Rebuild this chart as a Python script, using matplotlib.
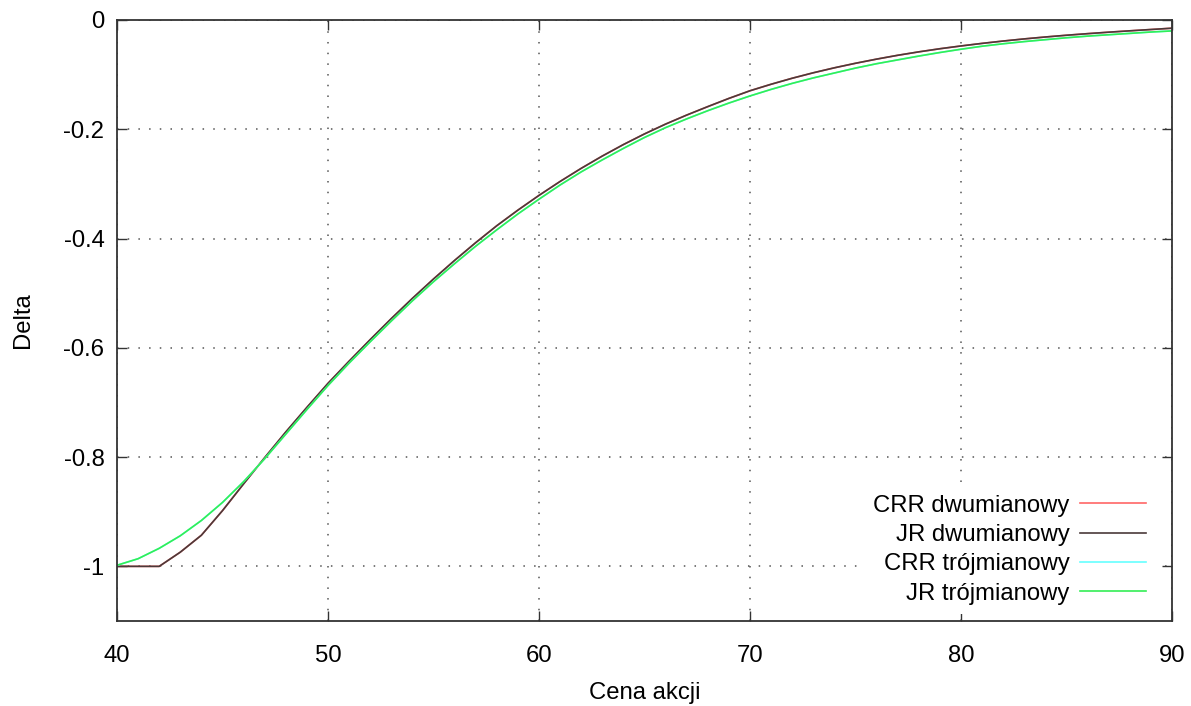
import matplotlib
matplotlib.use("Agg")
import matplotlib.pyplot as plt

plt.rcParams['font.family'] = ['Liberation Sans', 'DejaVu Sans']

# Stock price (x axis)
cena = list(range(40, 91))

# Delta values
crr_dwu = [-1.0, -1.0, -1.0, -0.974, -0.943, -0.898, -0.849, -0.801, -0.754, -0.709,
           -0.665, -0.6245, -0.585, -0.5465, -0.5095, -0.474, -0.44, -0.4075, -0.3765, -0.348,
           -0.321, -0.2955, -0.2715, -0.249, -0.228, -0.2085, -0.1905, -0.174, -0.1585, -0.1435,
           -0.1295, -0.1176, -0.1066, -0.0966, -0.0875, -0.0792, -0.0716, -0.0646, -0.0583, -0.0526,
           -0.0475, -0.0428, -0.0385, -0.0346, -0.0311, -0.0279, -0.025, -0.0223, -0.0198, -0.0174,
           -0.015]
jr_dwu = [-1.0, -1.0, -1.0, -0.974, -0.943, -0.898, -0.849, -0.801, -0.754, -0.709,
          -0.665, -0.6245, -0.585, -0.5465, -0.5095, -0.474, -0.44, -0.4075, -0.3765, -0.348,
          -0.321, -0.2955, -0.2715, -0.249, -0.228, -0.2085, -0.1905, -0.174, -0.1585, -0.1435,
          -0.1295, -0.1176, -0.1066, -0.0966, -0.0875, -0.0792, -0.0716, -0.0646, -0.0583, -0.0526,
          -0.0475, -0.0428, -0.0385, -0.0346, -0.0311, -0.0279, -0.025, -0.0223, -0.0198, -0.0174,
          -0.015]
crr_troj = [-0.998, -0.986, -0.967, -0.944, -0.916, -0.883, -0.845, -0.803, -0.758, -0.713,
            -0.669, -0.628, -0.589, -0.551, -0.514, -0.479, -0.446, -0.414, -0.384, -0.355,
            -0.328, -0.302, -0.278, -0.256, -0.235, -0.215, -0.197, -0.181, -0.166, -0.152,
            -0.139, -0.127, -0.116, -0.106, -0.097, -0.088, -0.080, -0.073, -0.066, -0.0595,
            -0.0535, -0.048, -0.0435, -0.0395, -0.036, -0.0325, -0.0295, -0.027, -0.0245, -0.022,
            -0.020]
jr_troj = [-0.998, -0.986, -0.967, -0.944, -0.916, -0.883, -0.845, -0.803, -0.758, -0.713,
           -0.669, -0.628, -0.589, -0.551, -0.514, -0.479, -0.446, -0.414, -0.384, -0.355,
           -0.328, -0.302, -0.278, -0.256, -0.235, -0.215, -0.197, -0.181, -0.166, -0.152,
           -0.139, -0.127, -0.116, -0.106, -0.097, -0.088, -0.080, -0.073, -0.066, -0.0595,
           -0.0535, -0.048, -0.0435, -0.0395, -0.036, -0.0325, -0.0295, -0.027, -0.0245, -0.022,
           -0.020]

labels = ["CRR dwumianowy", "JR dwumianowy", "CRR trójmianowy", "JR trójmianowy"]
x_ticks = [40, 50, 60, 70, 80, 90]
y_ticks = [-1, -0.8, -0.6, -0.4, -0.2, 0]
y_tick_labels = ["-1", "-0.8", "-0.6", "-0.4", "-0.2", "0"]

W, H = 1191, 706
fig = plt.figure(figsize=(W / 100, H / 100), dpi=100)
ax = fig.add_axes([117 / W, 1 - 621 / H, (1172 - 117) / W, (621 - 20) / H])

lw = 1.2
ax.plot(cena, crr_dwu, color='#ff6666', lw=lw, label=labels[0])
ax.plot(cena, jr_dwu, color='#4a3a3a', lw=lw, label=labels[1])
ax.plot(cena, crr_troj, color='#66ffff', lw=lw, label=labels[2])
ax.plot(cena, jr_troj, color='#33ee55', lw=lw, label=labels[3])

ax.set_xlim(40, 90)
ax.set_ylim(-1.1, 0)
ax.set_xticks(x_ticks)
ax.set_xticklabels([str(t) for t in x_ticks])
ax.set_yticks(y_ticks)
ax.set_yticklabels(y_tick_labels)

fs = 17.2
ax.tick_params(direction='in', length=7, width=1.0, colors='#333333',
               labelcolor='black', labelsize=fs, top=True, right=True)
ax.tick_params(axis='x', pad=17)
ax.tick_params(axis='y', pad=9)
for s in ax.spines.values():
    s.set_color('#333333')
    s.set_linewidth(1.3)

ax.grid(True, linestyle=(0, (1, 6)), color='#555555', linewidth=1.1)

ax.set_xlabel("Cena akcji", fontsize=fs, labelpad=11)
ax.set_ylabel("Delta", fontsize=fs, labelpad=21.5)

leg = ax.legend(loc='upper right', bbox_to_anchor=(0.9844, 0.2262), frameon=True,
                markerfirst=False, fontsize=fs, handlelength=2.75, handletextpad=0.45,
                labelspacing=0.31, borderpad=0.4, borderaxespad=0, fancybox=False)
leg.get_frame().set_facecolor('white')
leg.get_frame().set_edgecolor('none')
leg.get_frame().set_alpha(1.0)

fig.savefig("out.png", dpi=100)
